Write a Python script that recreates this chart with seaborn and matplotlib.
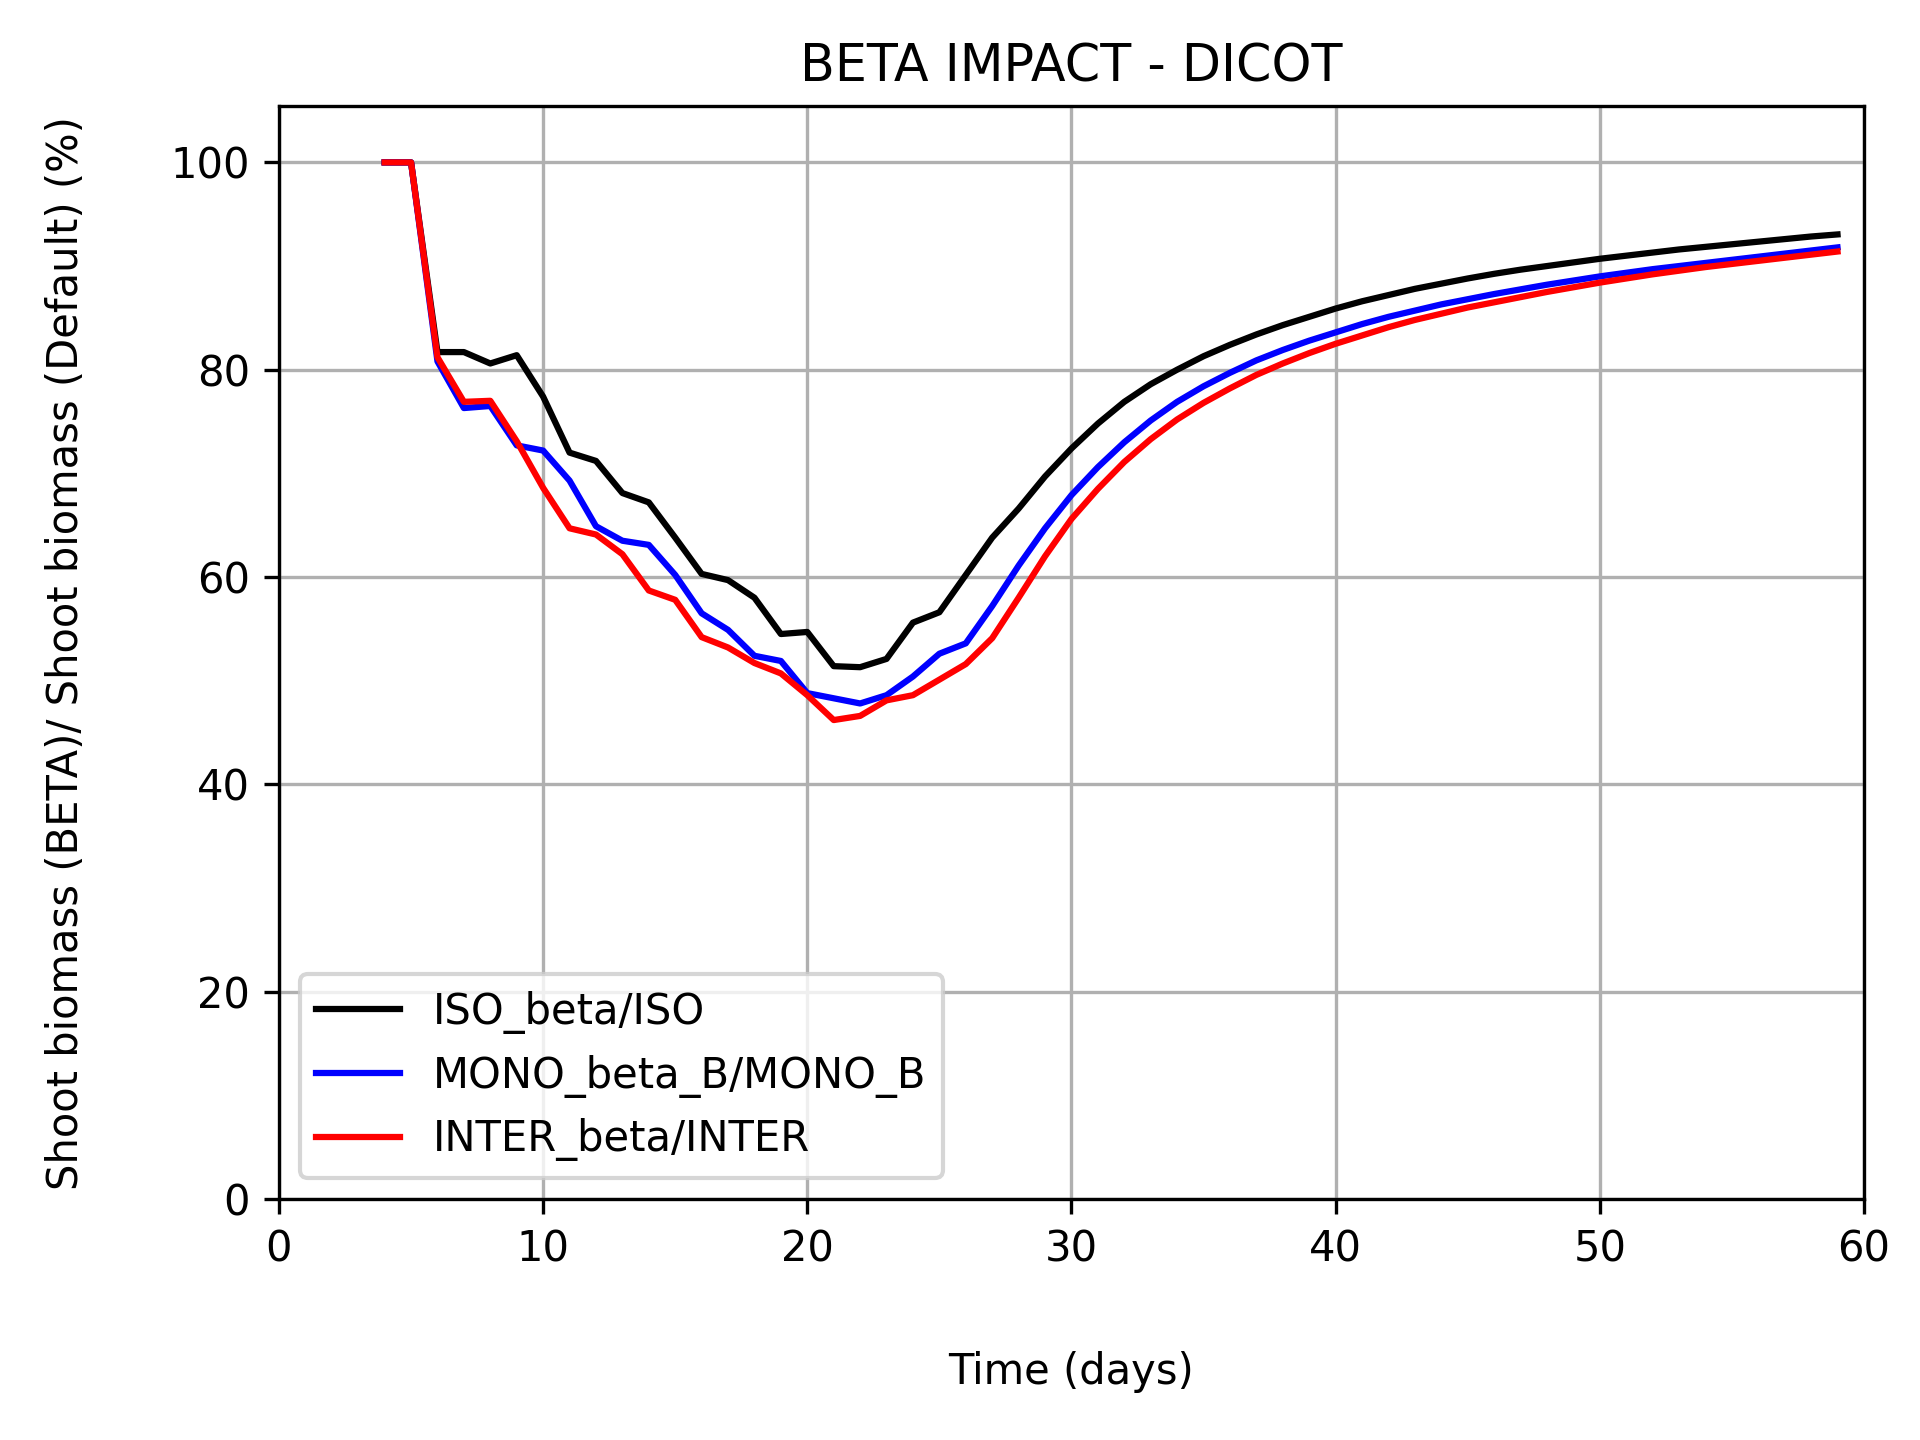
import matplotlib
matplotlib.use("Agg")
import matplotlib.pyplot as plt
import seaborn as sns
import pandas as pd

days = list(range(4, 60))

iso = [100.0, 100.0, 81.7, 81.7, 80.6, 81.4, 77.4, 72.0, 71.2, 68.1,
       67.2, 63.8, 60.3, 59.7, 58.0, 54.5, 54.7, 51.4, 51.3, 52.1,
       55.6, 56.6, 60.2, 63.8, 66.6, 69.7, 72.4, 74.8, 76.9, 78.6,
       80.0, 81.3, 82.4, 83.4, 84.3, 85.1, 85.9, 86.6, 87.2, 87.8,
       88.3, 88.8, 89.25, 89.65, 90.0, 90.35, 90.7, 91.0, 91.3, 91.6,
       91.85, 92.1, 92.35, 92.6, 92.85, 93.05]

mono = [100.0, 100.0, 80.8, 76.3, 76.5, 72.7, 72.2, 69.3, 64.9, 63.5,
        63.1, 60.2, 56.5, 54.9, 52.4, 51.9, 48.8, 48.3, 47.8, 48.6,
        50.4, 52.6, 53.6, 57.2, 61.1, 64.7, 67.9, 70.6, 73.0, 75.1,
        76.9, 78.4, 79.7, 80.9, 81.9, 82.8, 83.6, 84.4, 85.1, 85.7,
        86.3, 86.8, 87.3, 87.75, 88.2, 88.6, 89.0, 89.35, 89.7, 90.0,
        90.3, 90.6, 90.9, 91.2, 91.5, 91.8]

inter = [100.0, 100.0, 81.2, 76.9, 77.0, 73.1, 68.6, 64.7, 64.1, 62.2,
         58.7, 57.8, 54.2, 53.2, 51.7, 50.7, 48.6, 46.2, 46.6, 48.1,
         48.6, 50.1, 51.6, 54.1, 58.0, 62.0, 65.6, 68.5, 71.1, 73.3,
         75.2, 76.8, 78.2, 79.5, 80.6, 81.6, 82.5, 83.3, 84.1, 84.8,
         85.4, 86.0, 86.5, 87.0, 87.5, 87.95, 88.4, 88.8, 89.2, 89.55,
         89.9, 90.2, 90.5, 90.8, 91.1, 91.4]

labels = ["ISO_beta/ISO", "MONO_beta_B/MONO_B", "INTER_beta/INTER"]
colors = ["black", "blue", "red"]
series = [iso, mono, inter]

fig = plt.figure(figsize=(6.4, 4.8), dpi=300)
ax = fig.add_axes([0.1453, 0.1674, 0.8255, 0.7587])

for lab, col, vals in zip(labels, colors, series):
    df = pd.DataFrame({"Time": days, "Ratio": vals})
    sns.lineplot(data=df, x="Time", y="Ratio", color=col, linewidth=1.5,
                 label=lab, ax=ax, legend=False)

ax.set_xlim(0, 60)
ax.set_ylim(0, 105.4)
ax.set_xticks([0, 10, 20, 30, 40, 50, 60])
ax.set_yticks([0, 20, 40, 60, 80, 100])
ax.grid(True, color="#b0b0b0", linewidth=0.8)
ax.set_axisbelow(True)
ax.tick_params(labelsize=10)

ax.set_title("BETA IMPACT - DICOT", fontsize=12.2)
ax.set_xlabel("Time (days)", fontsize=10)
ax.set_ylabel("Shoot biomass (BETA)/ Shoot biomass (Default) (%)", fontsize=10)
ax.xaxis.set_label_coords(0.5, -0.139)
ax.yaxis.set_label_coords(-0.121, 0.5)

ax.legend(loc="lower left", fontsize=10)

fig.savefig("out.png", dpi=300)
